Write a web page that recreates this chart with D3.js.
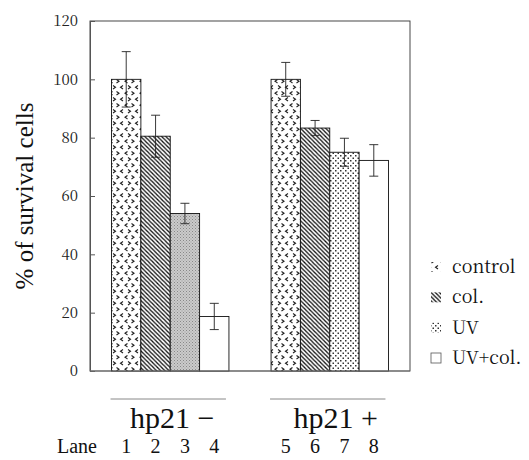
<!DOCTYPE html>
<html><head><meta charset="utf-8"><script src="https://cdn.jsdelivr.net/npm/d3@7"></script></head>
<body style="margin:0">
<svg id="chart" width="529" height="460" font-family="Liberation Serif" style="font-family: 'Liberation Serif'"></svg>
<script>
// ---- data ----
const groups = ["hp21 \u2212", "hp21 +"];
const series = ["control", "col.", "UV", "UV+col."];
const laneLabels = [["1", "2", "3", "4"], ["5", "6", "7", "8"]];
const valuesMinus = [100, 80.5, 54, 18.7];
const errorsMinus = [9.5, 7.2, 3.5, 4.5];
const valuesPlus = [100, 83.3, 75, 72.2];
const errorsPlus = [5.8, 2.6, 4.8, 5.4];
const yTicks = [0, 20, 40, 60, 80, 100, 120];
const yTitle = "% of survival cells";
const laneTitle = "Lane";

const groupValues = [valuesMinus, valuesPlus];
const groupErrors = [errorsMinus, errorsPlus];
const bars = [];
groups.forEach((g, gi) => series.forEach((s, si) => bars.push({
  group: g, gi, series: s, si, value: groupValues[gi][si], err: groupErrors[gi][si], lane: laneLabels[gi][si]
})));

const TIMES = "Liberation Serif";
const BOOK = "Noto Serif CJK JP";
const font = (sel, fam, size) => sel
  .attr("font-family", fam).attr("font-size", size)
  .style("font-family", `"${fam}"`).style("font-size", size + "px");

// ---- layout ----
const svg = d3.select("#chart");
const plotL = 90, plotR = 410, plotT = 21, plotB = 371;

const x0 = d3.scaleBand().domain(groups).range([plotL, plotR]).paddingInner(0.264).paddingOuter(0.135);
const x1 = d3.scaleBand().domain(series).range([0, x0.bandwidth()]).padding(0);
const y = d3.scaleLinear().domain([0, 120]).range([plotB, plotT]);

// ---- texts first ----
// y title
font(svg.append("text").attr("transform", `translate(33,196) rotate(-90)`)
  .attr("text-anchor", "middle").attr("fill", "#111").text(yTitle), TIMES, 25);

// group labels
groups.forEach((g, gi) => {
  const gx = x0(g);
  svg.append("line").attr("x1", gx - 1).attr("x2", gx + x0.bandwidth() - 3).attr("y1", 399).attr("y2", 399)
    .attr("stroke", "#888").attr("stroke-width", 1);
  font(svg.append("text").attr("x", gx + x0.bandwidth() / 2 + (gi === 0 ? 2 : 6)).attr("y", 428)
    .attr("text-anchor", "middle").attr("fill", "#111").text(g), TIMES, 30);
});

// lane labels
font(svg.append("text").attr("x", 77).attr("y", 453).attr("text-anchor", "middle")
  .attr("fill", "#111").text(laneTitle), TIMES, 20);
font(svg.append("g").selectAll("text").data(bars).join("text")
  .attr("x", d => x0(d.group) + x1(d.series) + x1.bandwidth() / 2)
  .attr("y", 453).attr("text-anchor", "middle").attr("fill", "#111")
  .text(d => d.lane), TIMES, 20);

// ---- patterns ----
const defs = svg.append("defs");
const pc = defs.append("pattern").attr("id", "p-control").attr("patternUnits", "userSpaceOnUse")
  .attr("width", 15).attr("height", 12).attr("x", 111).attr("y", 0);
pc.append("rect").attr("width", 15).attr("height", 12).attr("fill", "#fff");
pc.append("path").attr("d",
  "M2,1.5 L4.5,3.2 L2,5 M12,1.5 L9.5,3.2 L12,5 M5.5,7.5 L8,9.2 L5.5,11 M1.5,7.5 L-1,9.2 L1.5,11 M16.5,7.5 L14,9.2 L16.5,11")
  .attr("fill", "none").attr("stroke", "#222").attr("stroke-width", 1.1);
const ph = defs.append("pattern").attr("id", "p-col").attr("patternUnits", "userSpaceOnUse")
  .attr("width", 4.2).attr("height", 4.2);
ph.append("rect").attr("width", 4.2).attr("height", 4.2).attr("fill", "#fff");
ph.append("path").attr("d", "M-1,-1 L5.2,5.2 M3.2,-1 L5.2,1 M-1,3.2 L1,5.2")
  .attr("stroke", "#111").attr("stroke-width", 1.3);
const pd = defs.append("pattern").attr("id", "p-uv").attr("patternUnits", "userSpaceOnUse")
  .attr("width", 5).attr("height", 5);
pd.append("rect").attr("width", 5).attr("height", 5).attr("fill", "#fff");
pd.append("rect").attr("x", 0).attr("y", 0).attr("width", 1.5).attr("height", 1.5).attr("fill", "#333");
pd.append("rect").attr("x", 2.5).attr("y", 2.5).attr("width", 1.5).attr("height", 1.5).attr("fill", "#333");
const pg = defs.append("pattern").attr("id", "p-uvgray").attr("patternUnits", "userSpaceOnUse")
  .attr("width", 3).attr("height", 3);
pg.append("rect").attr("width", 3).attr("height", 3).attr("fill", "#cbcbcb");
pg.append("rect").attr("x", 0).attr("y", 0).attr("width", 1).attr("height", 1).attr("fill", "#888");
pg.append("rect").attr("x", 1.5).attr("y", 1.5).attr("width", 1).attr("height", 1).attr("fill", "#999");

const fillFor = d => {
  if (d.si === 0) return "url(#p-control)";
  if (d.si === 1) return "url(#p-col)";
  if (d.si === 2) return d.gi === 0 ? "url(#p-uvgray)" : "url(#p-uv)";
  return "#fff";
};

// ---- frame ----
svg.append("rect").attr("x", plotL).attr("y", plotT).attr("width", plotR - plotL).attr("height", plotB - plotT)
  .attr("fill", "none").attr("stroke", "#333").attr("stroke-width", 0.9);

// ---- bars ----
svg.append("g").selectAll("rect").data(bars).join("rect")
  .attr("x", d => x0(d.group) + x1(d.series))
  .attr("y", d => y(d.value))
  .attr("width", x1.bandwidth())
  .attr("height", d => y(0) - y(d.value))
  .attr("fill", fillFor)
  .attr("stroke", "#111").attr("stroke-width", 0.9);

// ---- error bars ----
const gErr = svg.append("g").attr("stroke", "#222").attr("stroke-width", 0.9);
bars.forEach(d => {
  const cx = x0(d.group) + x1(d.series) + x1.bandwidth() / 2;
  const y1 = y(d.value + d.err), y2 = y(d.value - d.err);
  gErr.append("line").attr("x1", cx).attr("x2", cx).attr("y1", y1).attr("y2", y2);
  gErr.append("line").attr("x1", cx - 4.5).attr("x2", cx + 4.5).attr("y1", y1).attr("y2", y1);
  gErr.append("line").attr("x1", cx - 4.5).attr("x2", cx + 4.5).attr("y1", y2).attr("y2", y2);
});

// ---- y axis ----
const yAxis = d3.axisLeft(y).tickValues(yTicks).tickSizeInner(-5).tickSizeOuter(0).tickPadding(12);
const gy = svg.append("g").attr("transform", `translate(${plotL},0)`).call(yAxis);
gy.attr("font-family", BOOK).attr("font-size", 15);
gy.select(".domain").attr("stroke", "#555");
gy.selectAll(".tick line").attr("stroke", "#555");
font(gy.selectAll(".tick text").attr("fill", "#222"), BOOK, 15);

svg.append("line").attr("x1", plotL).attr("x2", plotR).attr("y1", plotB).attr("y2", plotB)
  .attr("stroke", "#777").attr("stroke-width", 1.2);

// ---- legend ----
const legendFills = ["url(#p-control)", "url(#p-col)", "url(#p-uv)", "#fff"];
const legY = d3.scalePoint().domain(series).range([267, 358]);
const gl = svg.append("g");
series.forEach((s, i) => {
  const cy = legY(s);
  gl.append("rect").attr("x", 431).attr("y", cy - 5).attr("width", 10).attr("height", 10)
    .attr("fill", legendFills[i])
    .attr("stroke", i === 3 ? "#555" : "none").attr("stroke-width", 0.8);
  font(gl.append("text").attr("x", 452).attr("y", cy + 6).attr("fill", "#111").text(s), BOOK, 18);
});
</script>
</body>
</html>
